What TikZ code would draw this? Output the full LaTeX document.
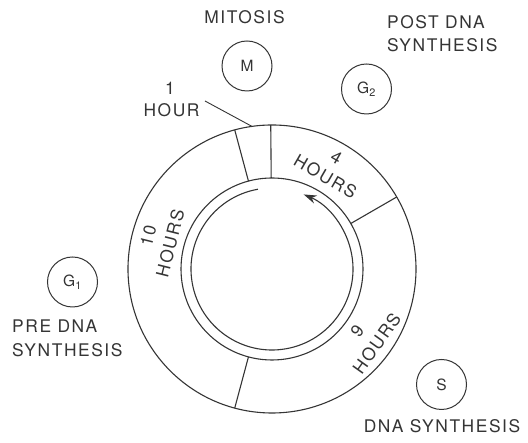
\documentclass[tikz,border=0pt]{standalone}
\usepackage{fontspec}
\setmainfont{TeX Gyre Heros}
\newfontfamily\labfont{TeX Gyre Heros}[LetterSpace=9]
\usetikzlibrary{arrows.meta,calc}
\definecolor{ink}{HTML}{353535}
\begin{document}
\begin{tikzpicture}[x=1pt,y=1pt,
  inkline/.style={draw=ink, line width=1.1pt},
  lab/.style={text=ink, inner sep=0pt, font=\labfont\fontsize{17.4}{23}\selectfont},
  phase/.style={circle, draw=ink, line width=1pt, minimum size=50pt, inner sep=0pt, text=ink, font=\fontsize{15.5}{18}\selectfont}]
\useasboundingbox[fill=white] (0,0) rectangle (528,443);
\coordinate (C) at (272,174);
% ring
\draw[inkline] (C) circle[radius=144];
\draw[inkline] (C) circle[radius=91];
\foreach \a in {105,90.5,30,-105}
  \draw[inkline] ($(C)+(\a:91)$) -- ($(C)+(\a:144)$);
% inner arrow circle
\draw[inkline,-{Stealth[length=13pt,width=8.5pt]}] ($(C)+(100:81)$) arc[start angle=100,end angle=427,radius=81];
% phase circles
\node[phase] (M) at (247,377) {M};
\node[phase] (G2) at (366.5,354) {G\textsubscript{2}};
\node[phase] (G1) at (72.5,161) {G\textsubscript{1}};
\node[phase] (S) at (441.5,58.5) {S};
% labels
\node[lab, anchor=base] (mit) at (244.5,419) {MITOSIS};
\node[lab, anchor=base west] (post1) at (387,414) {POST DNA};
\node[lab, anchor=base west] (post2) at (387,391) {SYNTHESIS};
\node[lab, anchor=base west] (pre1) at (12,110) {PRE DNA};
\node[lab, anchor=base west] (pre2) at (12,86) {SYNTHESIS};
\node[lab, anchor=base] (dna) at (442,10) {DNA SYNTHESIS};
\node[lab, anchor=base] (one) at (170,348) {1};
\node[lab, anchor=base] (hour) at (171.5,326) {HOUR};
\coordinate (leadA) at (205,342);
\coordinate (leadB) at ($(C)+(98:144)$);
\draw[draw=ink, line width=0.9pt] (leadA) -- (leadB);
% ring texts
\node[lab, rotate=-30] (h4n) at ($(C)+(60:129)$) {4};
\node[lab, rotate=-30] (h4) at ($(C)+(60:107)$) {HOURS};
\node[lab, rotate=54.5] (h9n) at ($(C)+(-36:105.5)$) {9};
\node[lab, rotate=54.5] (h9) at ($(C)+(-35.4:128.5)$) {HOURS};
\node[lab, rotate=76] (h10n) at ($(C)+(165:128)$) {10};
\node[lab, rotate=76] (h10) at ($(C)+(166:105)$) {HOURS};
\end{tikzpicture}
\end{document}
